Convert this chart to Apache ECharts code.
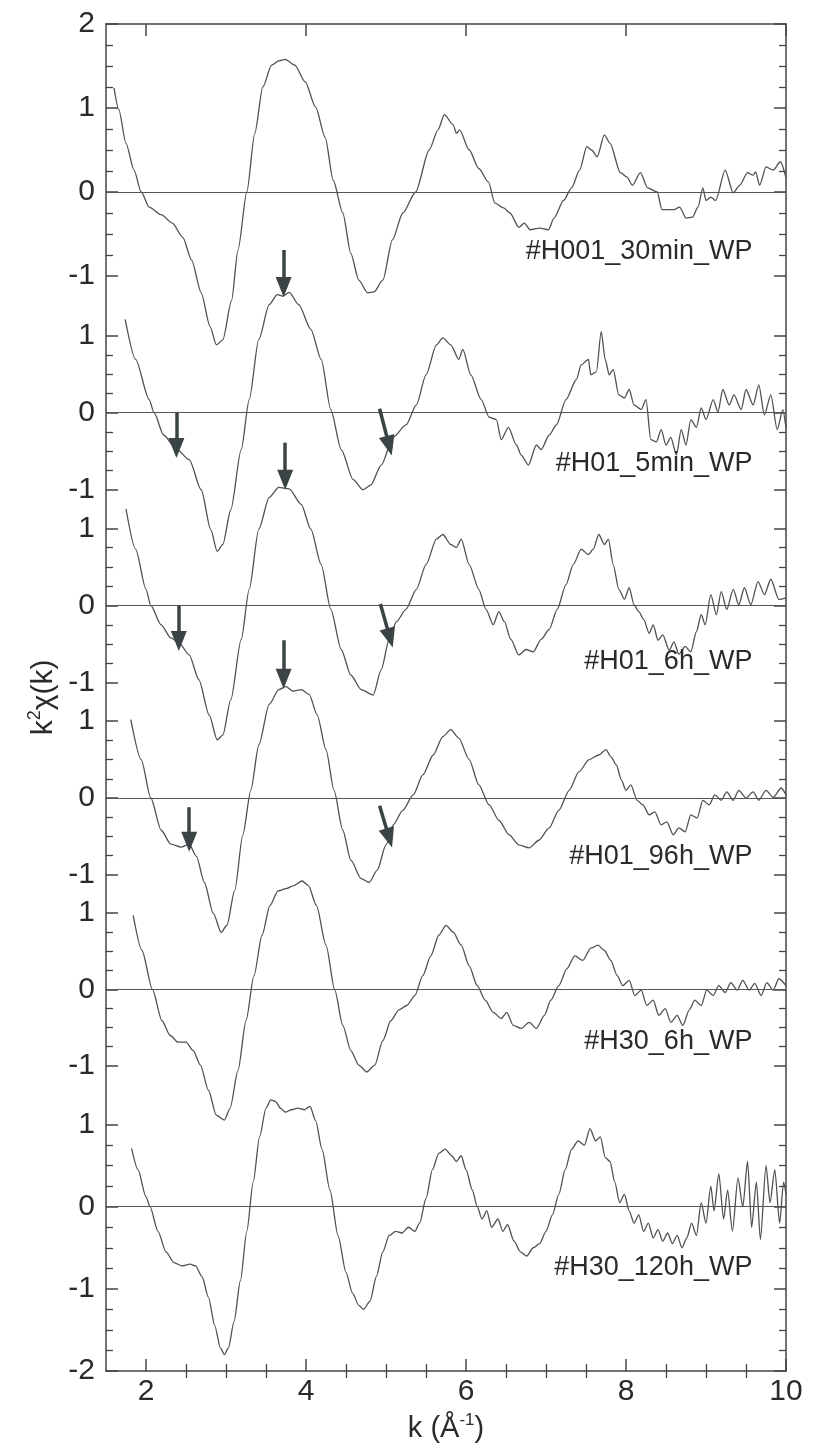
<!DOCTYPE html>
<html>
<head>
<meta charset="utf-8">
<script src="https://cdn.jsdelivr.net/npm/echarts@6/dist/echarts.min.js"></script>
<style>
html, body { margin: 0; padding: 0; background: #fff; }
#chart { width: 814px; height: 1450px; }
</style>
</head>
<body>
<div id="chart"></div>
<script>
// ---- data (k in 1/Angstrom, k^2 chi(k)) ----
var sampleNames = ['#H001_30min_WP', '#H01_5min_WP', '#H01_6h_WP', '#H01_96h_WP', '#H30_6h_WP', '#H30_120h_WP'];

var h001_30min = [[1.60,1.24],[1.66,0.98],[1.75,0.58],[1.85,0.26],[1.94,0.0],[2.04,-0.18],[2.19,-0.27],[2.33,-0.37],[2.46,-0.54],[2.57,-0.81],[2.69,-1.2],[2.80,-1.6],[2.88,-1.82],[2.96,-1.76],[3.07,-1.29],[3.15,-0.69],[3.26,0.0],[3.36,0.70],[3.46,1.25],[3.57,1.51],[3.66,1.56],[3.74,1.58],[3.86,1.51],[3.99,1.31],[4.12,1.01],[4.24,0.65],[4.34,0.14],[4.46,-0.25],[4.56,-0.73],[4.66,-1.05],[4.77,-1.2],[4.85,-1.19],[4.96,-1.05],[5.08,-0.57],[5.21,-0.25],[5.37,0.0],[5.54,0.5],[5.65,0.74],[5.73,0.92],[5.84,0.80],[5.88,0.70],[5.92,0.74],[6.04,0.5],[6.16,0.28],[6.28,0.12],[6.36,-0.13],[6.47,-0.19],[6.55,-0.25],[6.66,-0.42],[6.73,-0.37],[6.80,-0.45],[6.92,-0.43],[7.03,-0.45],[7.10,-0.31],[7.22,-0.1],[7.32,0.05],[7.42,0.26],[7.51,0.54],[7.57,0.5],[7.64,0.42],[7.73,0.68],[7.80,0.58],[7.93,0.23],[8.01,0.18],[8.08,0.08],[8.18,0.23],[8.27,0.05],[8.39,0.0],[8.45,-0.21],[8.60,-0.21],[8.67,-0.18],[8.75,-0.31],[8.83,-0.30],[8.90,-0.18],[8.96,0.05],[9.0,-0.1],[9.06,-0.06],[9.12,-0.1],[9.24,0.26],[9.34,-0.01],[9.42,0.08],[9.52,0.23],[9.59,0.2],[9.62,0.24],[9.67,0.08],[9.75,0.3],[9.84,0.26],[9.93,0.36],[10.0,0.17]];

var h01_5min = [[1.74,1.21],[1.87,0.69],[2.04,0.17],[2.10,0.0],[2.22,-0.29],[2.37,-0.46],[2.54,-0.61],[2.69,-1.0],[2.81,-1.52],[2.89,-1.8],[2.96,-1.71],[3.06,-1.26],[3.19,-0.48],[3.29,0.17],[3.41,0.95],[3.54,1.40],[3.64,1.53],[3.71,1.51],[3.79,1.56],[3.91,1.40],[4.06,1.08],[4.19,0.69],[4.31,0.04],[4.44,-0.48],[4.59,-0.87],[4.71,-1.0],[4.81,-0.94],[4.94,-0.68],[5.09,-0.32],[5.25,-0.16],[5.38,0.1],[5.50,0.49],[5.63,0.88],[5.71,0.97],[5.81,0.88],[5.91,0.69],[5.96,0.82],[6.06,0.49],[6.19,0.17],[6.29,-0.06],[6.38,-0.09],[6.44,-0.35],[6.53,-0.19],[6.63,-0.42],[6.69,-0.55],[6.78,-0.68],[6.88,-0.42],[6.94,-0.48],[7.04,-0.29],[7.13,-0.16],[7.25,0.17],[7.38,0.43],[7.44,0.62],[7.53,0.69],[7.56,0.49],[7.63,0.53],[7.69,1.05],[7.74,0.69],[7.79,0.49],[7.84,0.56],[7.91,0.23],[7.98,0.19],[8.04,0.30],[8.10,0.1],[8.19,0.04],[8.25,0.17],[8.31,-0.35],[8.38,-0.38],[8.44,-0.22],[8.50,-0.42],[8.56,-0.32],[8.63,-0.55],[8.69,-0.22],[8.75,-0.42],[8.81,-0.09],[8.88,-0.19],[8.94,0.06],[9.0,-0.09],[9.09,0.17],[9.15,0.01],[9.21,0.3],[9.29,0.1],[9.35,0.23],[9.44,0.04],[9.50,0.3],[9.59,0.1],[9.66,0.36],[9.73,-0.03],[9.81,0.23],[9.89,-0.22],[9.96,0.04],[10.0,-0.2]];

var h01_6h = [[1.75,1.25],[1.87,0.73],[2.0,0.21],[2.06,0.0],[2.19,-0.25],[2.31,-0.42],[2.41,-0.48],[2.54,-0.64],[2.66,-0.96],[2.79,-1.42],[2.89,-1.74],[2.96,-1.68],[3.06,-1.22],[3.19,-0.44],[3.29,0.21],[3.41,0.99],[3.54,1.40],[3.66,1.53],[3.79,1.51],[3.94,1.31],[4.06,0.99],[4.19,0.53],[4.31,-0.05],[4.44,-0.57],[4.56,-0.9],[4.69,-1.09],[4.84,-1.16],[4.94,-0.83],[5.04,-0.44],[5.13,-0.21],[5.25,-0.05],[5.38,0.21],[5.50,0.53],[5.63,0.86],[5.71,0.92],[5.81,0.79],[5.88,0.75],[5.94,0.86],[6.04,0.53],[6.16,0.21],[6.25,-0.05],[6.34,-0.25],[6.41,-0.08],[6.48,-0.21],[6.56,-0.44],[6.66,-0.64],[6.75,-0.57],[6.84,-0.6],[6.94,-0.44],[7.04,-0.31],[7.14,-0.05],[7.25,0.27],[7.34,0.53],[7.44,0.73],[7.53,0.66],[7.59,0.73],[7.66,0.92],[7.73,0.79],[7.78,0.86],[7.84,0.53],[7.91,0.21],[7.98,0.08],[8.04,0.23],[8.10,0.01],[8.16,-0.08],[8.22,-0.18],[8.29,-0.36],[8.34,-0.25],[8.40,-0.45],[8.46,-0.38],[8.54,-0.58],[8.60,-0.47],[8.66,-0.63],[8.74,-0.53],[8.81,-0.6],[8.88,-0.34],[8.94,-0.12],[8.99,-0.25],[9.06,0.14],[9.13,-0.12],[9.19,0.18],[9.26,-0.05],[9.34,0.21],[9.41,0.01],[9.48,0.23],[9.56,0.01],[9.65,0.31],[9.73,0.14],[9.81,0.34],[9.91,0.08],[10.0,0.1]];

var h01_96h = [[1.81,1.02],[1.94,0.5],[2.06,0.0],[2.19,-0.42],[2.31,-0.6],[2.44,-0.64],[2.54,-0.6],[2.63,-0.76],[2.73,-1.1],[2.84,-1.5],[2.94,-1.75],[3.01,-1.66],[3.11,-1.2],[3.21,-0.48],[3.31,0.1],[3.41,0.69],[3.54,1.22],[3.66,1.41],[3.75,1.45],[3.84,1.39],[3.94,1.41],[4.04,1.35],[4.14,1.08],[4.25,0.63],[4.35,0.1],[4.46,-0.42],[4.56,-0.81],[4.69,-1.05],[4.79,-1.1],[4.89,-0.94],[5.0,-0.61],[5.09,-0.35],[5.21,-0.16],[5.34,0.04],[5.46,0.3],[5.59,0.56],[5.71,0.8],[5.81,0.89],[5.91,0.78],[6.04,0.5],[6.16,0.17],[6.29,-0.09],[6.41,-0.29],[6.54,-0.48],[6.66,-0.61],[6.79,-0.65],[6.91,-0.55],[7.04,-0.39],[7.16,-0.16],[7.29,0.1],[7.41,0.34],[7.54,0.5],[7.66,0.56],[7.75,0.63],[7.81,0.54],[7.88,0.43],[7.94,0.24],[8.0,0.1],[8.06,0.17],[8.14,-0.03],[8.21,-0.09],[8.29,-0.22],[8.36,-0.18],[8.44,-0.35],[8.51,-0.31],[8.59,-0.48],[8.66,-0.39],[8.74,-0.44],[8.81,-0.22],[8.89,-0.26],[8.96,-0.03],[9.04,-0.09],[9.11,0.04],[9.19,-0.03],[9.26,0.08],[9.34,-0.03],[9.41,0.1],[9.50,0.0],[9.59,0.08],[9.66,-0.03],[9.75,0.1],[9.84,0.01],[9.94,0.13],[10.0,0.04]];

var h30_6h = [[1.84,0.97],[1.95,0.51],[2.08,0.0],[2.20,-0.41],[2.30,-0.6],[2.40,-0.69],[2.50,-0.69],[2.59,-0.8],[2.68,-0.99],[2.78,-1.32],[2.88,-1.65],[2.98,-1.71],[3.05,-1.56],[3.15,-1.06],[3.25,-0.41],[3.35,0.18],[3.45,0.71],[3.55,1.1],[3.65,1.29],[3.75,1.32],[3.85,1.36],[3.95,1.42],[4.03,1.36],[4.13,1.1],[4.25,0.58],[4.36,-0.01],[4.46,-0.47],[4.56,-0.8],[4.66,-0.99],[4.76,-1.08],[4.86,-0.99],[4.96,-0.67],[5.06,-0.41],[5.16,-0.27],[5.26,-0.21],[5.36,-0.08],[5.46,0.18],[5.56,0.44],[5.66,0.71],[5.75,0.84],[5.84,0.75],[5.94,0.58],[6.04,0.31],[6.14,0.05],[6.24,-0.14],[6.34,-0.3],[6.44,-0.38],[6.51,-0.3],[6.59,-0.47],[6.69,-0.51],[6.79,-0.43],[6.88,-0.51],[6.98,-0.34],[7.06,-0.14],[7.16,0.05],[7.26,0.27],[7.36,0.44],[7.46,0.38],[7.56,0.54],[7.65,0.58],[7.73,0.51],[7.81,0.38],[7.89,0.18],[7.96,0.05],[8.04,0.12],[8.11,-0.08],[8.19,-0.01],[8.26,-0.21],[8.34,-0.14],[8.41,-0.34],[8.49,-0.25],[8.56,-0.43],[8.64,-0.34],[8.71,-0.47],[8.79,-0.27],[8.86,-0.14],[8.94,-0.21],[9.01,-0.01],[9.09,-0.08],[9.16,0.05],[9.24,-0.04],[9.31,0.09],[9.39,-0.01],[9.46,0.12],[9.54,-0.01],[9.61,0.08],[9.69,-0.08],[9.76,0.09],[9.84,-0.01],[9.91,0.14],[10.0,0.05]];

var h30_120h = [[1.82,0.71],[1.90,0.45],[2.0,0.12],[2.05,0.0],[2.15,-0.3],[2.25,-0.55],[2.35,-0.68],[2.45,-0.72],[2.55,-0.7],[2.62,-0.72],[2.70,-0.85],[2.78,-1.1],[2.86,-1.45],[2.93,-1.72],[2.98,-1.8],[3.03,-1.72],[3.10,-1.4],[3.18,-0.9],[3.26,-0.3],[3.34,0.3],[3.42,0.85],[3.50,1.2],[3.56,1.3],[3.62,1.28],[3.68,1.2],[3.74,1.15],[3.82,1.18],[3.90,1.2],[3.98,1.18],[4.05,1.22],[4.12,1.05],[4.20,0.7],[4.30,0.2],[4.40,-0.35],[4.50,-0.8],[4.58,-1.05],[4.66,-1.2],[4.72,-1.25],[4.80,-1.15],[4.88,-0.85],[4.96,-0.55],[5.04,-0.35],[5.12,-0.3],[5.20,-0.32],[5.28,-0.25],[5.36,-0.3],[5.42,-0.2],[5.50,0.1],[5.58,0.45],[5.66,0.65],[5.74,0.7],[5.82,0.62],[5.88,0.55],[5.94,0.62],[6.0,0.45],[6.08,0.2],[6.14,0.0],[6.20,-0.15],[6.26,-0.05],[6.32,-0.25],[6.40,-0.15],[6.46,-0.3],[6.52,-0.22],[6.60,-0.42],[6.68,-0.55],[6.76,-0.6],[6.84,-0.5],[6.92,-0.45],[7.0,-0.3],[7.08,-0.1],[7.16,0.15],[7.24,0.45],[7.32,0.7],[7.40,0.8],[7.48,0.75],[7.55,0.95],[7.62,0.8],[7.68,0.85],[7.74,0.6],[7.80,0.55],[7.86,0.3],[7.92,0.05],[7.98,0.15],[8.04,-0.05],[8.10,-0.2],[8.16,-0.1],[8.22,-0.3],[8.28,-0.2],[8.34,-0.38],[8.40,-0.28],[8.46,-0.42],[8.52,-0.32],[8.58,-0.45],[8.64,-0.35],[8.70,-0.5],[8.76,-0.38],[8.82,-0.2],[8.88,-0.35],[8.94,0.05],[9.0,-0.2],[9.06,0.25],[9.10,-0.05],[9.16,0.4],[9.22,-0.15],[9.27,0.2],[9.33,-0.3],[9.40,0.35],[9.46,0.0],[9.52,0.55],[9.57,-0.25],[9.63,0.3],[9.68,-0.4],[9.75,0.5],[9.80,0.05],[9.86,0.45],[9.92,-0.2],[9.97,0.3],[10.0,0.15]];

var curves = [h001_30min, h01_5min, h01_6h, h01_96h, h30_6h, h30_120h];

// axis ranges and tick values
var kRange = [1.5, 10];
var kMajor = [2, 4, 6, 8, 10];
var kMinor = [2.5, 3, 3.5, 4.5, 5, 5.5, 6.5, 7, 7.5, 8.5, 9, 9.5];
var panelRanges = [[-1.25, 2], [-1.25, 1.5], [-1.25, 1.25], [-1.25, 1.25], [-1.5, 1.25], [-2, 1.25]];
var panelMajor = [[-1, 0, 1, 2], [-1, 0, 1], [-1, 0, 1], [-1, 0, 1], [-1, 0, 1], [-2, -1, 0, 1]];
var panelMinor = [
    [-0.75, -0.5, -0.25, 0.25, 0.5, 0.75, 1.25, 1.5, 1.75],
    [-0.75, -0.5, -0.25, 0.25, 0.5, 0.75],
    [-0.75, -0.5, -0.25, 0.25, 0.5, 0.75],
    [-0.75, -0.5, -0.25, 0.25, 0.5, 0.75],
    [-0.75, -0.5, -0.25, 0.25, 0.5, 0.75],
    [-1.75, -1.5, -1.25, -0.75, -0.5, -0.25, 0.25, 0.5, 0.75]
];

// sample label anchors (right end of text) in each panel
var labelAt = [[9.58, -0.71], [9.58, -0.66], [9.58, -0.73], [9.58, -0.76], [9.58, -0.68], [9.58, -0.74]];

// arrows: [from, to], in the coordinates of the panel they are drawn in
var arrows = [
    [[[3.72, -0.69], [3.72, -1.13]]],
    [[[2.38, 0.0], [2.38, -0.46]], [[4.92, 0.05], [5.04, -0.43]], [[3.74, -0.39], [3.74, -0.87]]],
    [[[2.41, 0.0], [2.41, -0.46]], [[4.93, 0.02], [5.05, -0.42]], [[3.72, -0.45], [3.72, -0.95]]],
    [[[2.54, -0.12], [2.54, -0.57]], [[4.92, -0.1], [5.04, -0.52]]],
    [],
    []
];

// ---- layout ----
var FONT = "'Liberation Sans', Arial, sans-serif";
var INK = '#444';
var TEXT = '#2a2a2a';
var CURVE = '#505050';
var ARROW = '#3b4444';
var gridLeft = 106, gridRight = 28;
var bounds = [24, 297, 509, 702, 894, 1104, 1371];

var chart = echarts.init(document.getElementById('chart'), null, { renderer: 'canvas' });

var grids = [{ left: gridLeft, right: gridRight, top: bounds[0], height: bounds[6] - bounds[0] }];
var xAxes = [], yAxes = [], series = [];

function tickAxis(extra) {
    var base = {
        splitLine: { show: false },
        axisLine: { show: false },
        axisTick: { show: false },
        axisLabel: { show: false }
    };
    return Object.assign(base, extra);
}

// frame: bottom / top x axes with major and minor ticks
xAxes.push(tickAxis({
    type: 'value', gridIndex: 0, position: 'bottom', min: kRange[0], max: kRange[1],
    axisLine: { show: true, onZero: false, lineStyle: { color: INK, width: 1.5 } },
    axisTick: { show: true, inside: true, length: 12, customValues: kMajor, lineStyle: { color: INK, width: 1.5 } },
    axisLabel: { show: true, customValues: kMajor, fontSize: 30, color: TEXT, fontFamily: FONT, margin: 6 },
    name: '{a|k (Å}{s|-1}{a|)}', nameLocation: 'middle', nameGap: 40,
    nameTextStyle: {
        rich: {
            a: { fontSize: 29, color: TEXT, fontFamily: FONT, lineHeight: 34 },
            s: { fontSize: 17, color: TEXT, fontFamily: FONT, verticalAlign: 'top', lineHeight: 34 }
        }
    }
}));
xAxes.push(tickAxis({
    type: 'value', gridIndex: 0, position: 'bottom', min: kRange[0], max: kRange[1],
    axisTick: { show: true, inside: true, length: 7, customValues: kMinor, lineStyle: { color: INK, width: 1.3 } }
}));
xAxes.push(tickAxis({
    type: 'value', gridIndex: 0, position: 'top', min: kRange[0], max: kRange[1],
    axisLine: { show: true, onZero: false, lineStyle: { color: INK, width: 1.5 } },
    axisTick: { show: true, inside: true, length: 12, customValues: kMajor, lineStyle: { color: INK, width: 1.5 } }
}));
xAxes.push(tickAxis({
    type: 'value', gridIndex: 0, position: 'top', min: kRange[0], max: kRange[1],
    axisTick: { show: true, inside: true, length: 7, customValues: kMinor, lineStyle: { color: INK, width: 1.3 } }
}));

yAxes.push(tickAxis({
    type: 'value', gridIndex: 0, position: 'left', min: 0, max: 1,
    axisLine: { show: true, onZero: false, lineStyle: { color: INK, width: 1.5 } },
    name: '{a|k}{s|2}{a|χ(k)}', nameLocation: 'middle', nameGap: 44, nameRotate: 90,
    nameTextStyle: {
        rich: {
            a: { fontSize: 30, color: TEXT, fontFamily: FONT, lineHeight: 36 },
            s: { fontSize: 18, color: TEXT, fontFamily: FONT, verticalAlign: 'top', lineHeight: 36 }
        }
    }
}));
yAxes.push(tickAxis({
    type: 'value', gridIndex: 0, position: 'right', min: 0, max: 1,
    axisLine: { show: true, onZero: false, lineStyle: { color: INK, width: 1.5 } }
}));

for (var i = 0; i < 6; i++) {
    var g = i + 1;
    grids.push({ left: gridLeft, right: gridRight, top: bounds[i], height: bounds[i + 1] - bounds[i] });
    xAxes.push({ type: 'value', gridIndex: g, min: kRange[0], max: kRange[1], show: false });

    var yBase = yAxes.length;
    var rng = panelRanges[i];
    yAxes.push(tickAxis({
        type: 'value', gridIndex: g, position: 'left', min: rng[0], max: rng[1],
        axisTick: { show: true, inside: true, length: 12, customValues: panelMajor[i], lineStyle: { color: INK, width: 1.5 } },
        axisLabel: { show: true, customValues: panelMajor[i], fontSize: 30, color: TEXT, fontFamily: FONT, margin: 11 }
    }));
    yAxes.push(tickAxis({
        type: 'value', gridIndex: g, position: 'left', min: rng[0], max: rng[1],
        axisTick: { show: true, inside: true, length: 7, customValues: panelMinor[i], lineStyle: { color: INK, width: 1.3 } }
    }));
    yAxes.push(tickAxis({
        type: 'value', gridIndex: g, position: 'right', min: rng[0], max: rng[1],
        axisTick: { show: true, inside: true, length: 12, customValues: panelMajor[i], lineStyle: { color: INK, width: 1.5 } }
    }));
    yAxes.push(tickAxis({
        type: 'value', gridIndex: g, position: 'right', min: rng[0], max: rng[1],
        axisTick: { show: true, inside: true, length: 7, customValues: panelMinor[i], lineStyle: { color: INK, width: 1.3 } }
    }));

    var mlData = [{ yAxis: 0, lineStyle: { color: '#555', width: 1.1, type: 'solid' } }];
    arrows[i].forEach(function (a) {
        mlData.push([
            { coord: a[0], symbol: 'none', lineStyle: { color: ARROW, width: 3.5, type: 'solid' } },
            { coord: a[1], symbol: 'triangle', symbolSize: [16, 20], itemStyle: { color: ARROW } }
        ]);
    });

    series.push({
        name: sampleNames[i],
        type: 'line',
        xAxisIndex: 4 + i,
        yAxisIndex: yBase,
        data: curves[i],
        showSymbol: false,
        smooth: 0.25,
        smoothMonotone: 'x',
        clip: false,
        silent: true,
        animation: false,
        lineStyle: { color: CURVE, width: 1.3 },
        markLine: {
            silent: true,
            animation: false,
            symbol: 'none',
            label: { show: false },
            emphasis: { disabled: true },
            data: mlData
        },
        markPoint: {
            silent: true,
            animation: false,
            symbol: 'circle',
            symbolSize: 0,
            data: [{ coord: labelAt[i], name: sampleNames[i] }],
            label: {
                show: true, position: 'left', distance: 0, formatter: '{b}',
                color: TEXT, fontSize: 27, fontFamily: FONT
            }
        }
    });
}

chart.setOption({
    backgroundColor: '#fff',
    animation: false,
    grid: grids,
    xAxis: xAxes,
    yAxis: yAxes,
    series: series
});
</script>
</body>
</html>
